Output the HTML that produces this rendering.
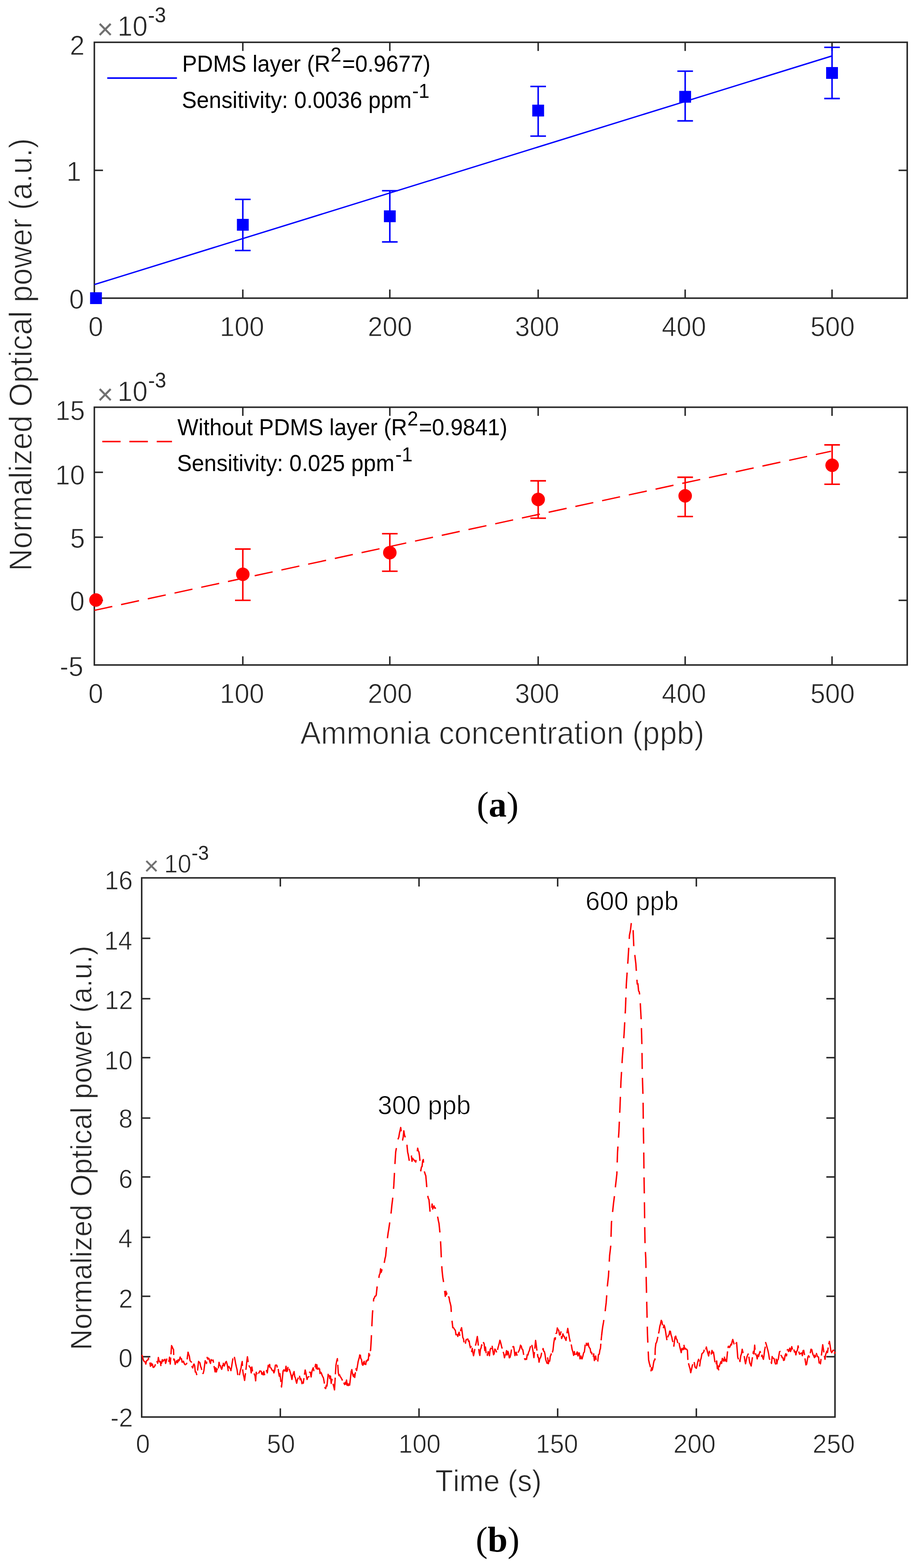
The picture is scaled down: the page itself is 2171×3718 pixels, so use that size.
<!DOCTYPE html>
<html><head><meta charset="utf-8"><title>Figure</title>
<style>
html,body{margin:0;padding:0;background:#fff;}
svg{display:block;}
text{font-family:"Liberation Sans",Arial,sans-serif;font-kerning:none;}
text.e1{stroke:#fff;stroke-width:1.0px;}
text.e2{stroke:#fff;stroke-width:1.4px;}
text.cap{font-family:"Liberation Serif","Times New Roman",serif;}
</style></head><body>
<svg width="2171" height="3718" viewBox="0 0 2171 3718">
<rect width="2171" height="3718" fill="#fff"/>
<rect x="223.6" y="100.3" width="1926.6" height="606.7" fill="none" stroke="#262626" stroke-width="3.6"/>
<line x1="575.5" y1="707.0" x2="575.5" y2="686.5" stroke="#262626" stroke-width="3.5"/>
<line x1="575.5" y1="100.3" x2="575.5" y2="120.8" stroke="#262626" stroke-width="3.5"/>
<line x1="923.9" y1="707.0" x2="923.9" y2="686.5" stroke="#262626" stroke-width="3.5"/>
<line x1="923.9" y1="100.3" x2="923.9" y2="120.8" stroke="#262626" stroke-width="3.5"/>
<line x1="1275.5" y1="707.0" x2="1275.5" y2="686.5" stroke="#262626" stroke-width="3.5"/>
<line x1="1275.5" y1="100.3" x2="1275.5" y2="120.8" stroke="#262626" stroke-width="3.5"/>
<line x1="1623.9" y1="707.0" x2="1623.9" y2="686.5" stroke="#262626" stroke-width="3.5"/>
<line x1="1623.9" y1="100.3" x2="1623.9" y2="120.8" stroke="#262626" stroke-width="3.5"/>
<line x1="1972.0" y1="707.0" x2="1972.0" y2="686.5" stroke="#262626" stroke-width="3.5"/>
<line x1="1972.0" y1="100.3" x2="1972.0" y2="120.8" stroke="#262626" stroke-width="3.5"/>
<line x1="223.6" y1="403.9" x2="244.1" y2="403.9" stroke="#262626" stroke-width="3.5"/>
<line x1="2150.2" y1="403.9" x2="2129.7" y2="403.9" stroke="#262626" stroke-width="3.5"/>
<text x="209.5" y="797.0" font-size="63" fill="#262626" class="e1" transform="translate(0,-31.88) scale(1,1.04)">0</text>
<text x="520.9" y="797.0" font-size="63" fill="#262626" class="e1" transform="translate(0,-31.88) scale(1,1.04)">100</text>
<text x="871.7" y="797.0" font-size="63" fill="#262626" class="e1" transform="translate(0,-31.88) scale(1,1.04)">200</text>
<text x="1220.5" y="797.0" font-size="63" fill="#262626" class="e1" transform="translate(0,-31.88) scale(1,1.04)">300</text>
<text x="1568.5" y="797.0" font-size="63" fill="#262626" class="e1" transform="translate(0,-31.88) scale(1,1.04)">400</text>
<text x="1920.7" y="797.0" font-size="63" fill="#262626" class="e1" transform="translate(0,-31.88) scale(1,1.04)">500</text>
<text x="164.1" y="732.0" font-size="63" fill="#262626" class="e1" transform="translate(0,-29.28) scale(1,1.04)">0</text>
<text x="157.5" y="429.5" font-size="63" fill="#262626" class="e1" transform="translate(0,-17.18) scale(1,1.04)">1</text>
<text x="165.4" y="130.0" font-size="63" fill="#262626" class="e1" transform="translate(0,-5.20) scale(1,1.04)">2</text>
<text x="229.9" y="92.0" font-size="66" fill="#707070">×</text>
<text x="278.6" y="85.5" font-size="64" fill="#262626" class="e1" transform="translate(0,-3.42) scale(1,1.04)">10</text>
<text x="350.7" y="53.5" font-size="48" fill="#262626" transform="translate(0,-2.14) scale(1,1.04)">-3</text>
<line x1="254.2" y1="185.1" x2="419.4" y2="185.1" stroke="#0000ff" stroke-width="3.6"/>
<text x="431.7" y="170.5" font-size="52.7" fill="#000" transform="translate(0,-6.82) scale(1,1.04)">PDMS layer (R</text>
<text x="783.5" y="146.0" font-size="46" fill="#000" transform="translate(0,-5.84) scale(1,1.04)">2</text>
<text x="810.9" y="170.5" font-size="52.7" fill="#000" transform="translate(0,-6.82) scale(1,1.04)">=0.9677)</text>
<text x="430.9" y="255.7" font-size="52.7" fill="#000" transform="translate(0,-10.23) scale(1,1.04)">Sensitivity: 0.0036 ppm</text>
<text x="977" y="231.6" font-size="46" fill="#000" transform="translate(0,-9.26) scale(1,1.04)">-1</text>
<line x1="223.6" y1="674.8" x2="1972.0" y2="132.6" stroke="#0000ff" stroke-width="3.2"/>
<rect x="213.5" y="693.0" width="28" height="28" fill="#0000ff"/>
<line x1="575.5" y1="472.7" x2="575.5" y2="594.0" stroke="#0000ff" stroke-width="3.6"/>
<line x1="557.0" y1="472.7" x2="594.0" y2="472.7" stroke="#0000ff" stroke-width="3.6"/>
<line x1="557.0" y1="594.0" x2="594.0" y2="594.0" stroke="#0000ff" stroke-width="3.6"/>
<rect x="561.5" y="519.0" width="28" height="28" fill="#0000ff"/>
<line x1="923.9" y1="452.3" x2="923.9" y2="573.6" stroke="#0000ff" stroke-width="3.6"/>
<line x1="905.4" y1="452.3" x2="942.4" y2="452.3" stroke="#0000ff" stroke-width="3.6"/>
<line x1="905.4" y1="573.6" x2="942.4" y2="573.6" stroke="#0000ff" stroke-width="3.6"/>
<rect x="909.9" y="498.8" width="28" height="28" fill="#0000ff"/>
<line x1="1275.5" y1="205.0" x2="1275.5" y2="322.7" stroke="#0000ff" stroke-width="3.6"/>
<line x1="1257.0" y1="205.0" x2="1294.0" y2="205.0" stroke="#0000ff" stroke-width="3.6"/>
<line x1="1257.0" y1="322.7" x2="1294.0" y2="322.7" stroke="#0000ff" stroke-width="3.6"/>
<rect x="1261.5" y="248.2" width="28" height="28" fill="#0000ff"/>
<line x1="1623.9" y1="168.7" x2="1623.9" y2="286.6" stroke="#0000ff" stroke-width="3.6"/>
<line x1="1605.4" y1="168.7" x2="1642.4" y2="168.7" stroke="#0000ff" stroke-width="3.6"/>
<line x1="1605.4" y1="286.6" x2="1642.4" y2="286.6" stroke="#0000ff" stroke-width="3.6"/>
<rect x="1609.9" y="215.5" width="28" height="28" fill="#0000ff"/>
<line x1="1972.0" y1="112.3" x2="1972.0" y2="233.6" stroke="#0000ff" stroke-width="3.6"/>
<line x1="1953.5" y1="112.3" x2="1990.5" y2="112.3" stroke="#0000ff" stroke-width="3.6"/>
<line x1="1953.5" y1="233.6" x2="1990.5" y2="233.6" stroke="#0000ff" stroke-width="3.6"/>
<rect x="1958.0" y="159.0" width="28" height="28" fill="#0000ff"/>
<rect x="223.6" y="965.6" width="1926.6" height="611.2" fill="none" stroke="#262626" stroke-width="3.6"/>
<line x1="575.5" y1="1576.8" x2="575.5" y2="1556.3" stroke="#262626" stroke-width="3.5"/>
<line x1="575.5" y1="965.6" x2="575.5" y2="986.1" stroke="#262626" stroke-width="3.5"/>
<line x1="923.9" y1="1576.8" x2="923.9" y2="1556.3" stroke="#262626" stroke-width="3.5"/>
<line x1="923.9" y1="965.6" x2="923.9" y2="986.1" stroke="#262626" stroke-width="3.5"/>
<line x1="1275.5" y1="1576.8" x2="1275.5" y2="1556.3" stroke="#262626" stroke-width="3.5"/>
<line x1="1275.5" y1="965.6" x2="1275.5" y2="986.1" stroke="#262626" stroke-width="3.5"/>
<line x1="1623.9" y1="1576.8" x2="1623.9" y2="1556.3" stroke="#262626" stroke-width="3.5"/>
<line x1="1623.9" y1="965.6" x2="1623.9" y2="986.1" stroke="#262626" stroke-width="3.5"/>
<line x1="1972.0" y1="1576.8" x2="1972.0" y2="1556.3" stroke="#262626" stroke-width="3.5"/>
<line x1="1972.0" y1="965.6" x2="1972.0" y2="986.1" stroke="#262626" stroke-width="3.5"/>
<line x1="223.6" y1="1119.9" x2="244.1" y2="1119.9" stroke="#262626" stroke-width="3.5"/>
<line x1="2150.2" y1="1119.9" x2="2129.7" y2="1119.9" stroke="#262626" stroke-width="3.5"/>
<line x1="223.6" y1="1273.8" x2="244.1" y2="1273.8" stroke="#262626" stroke-width="3.5"/>
<line x1="2150.2" y1="1273.8" x2="2129.7" y2="1273.8" stroke="#262626" stroke-width="3.5"/>
<line x1="223.6" y1="1423.5" x2="244.1" y2="1423.5" stroke="#262626" stroke-width="3.5"/>
<line x1="2150.2" y1="1423.5" x2="2129.7" y2="1423.5" stroke="#262626" stroke-width="3.5"/>
<text x="209.5" y="1667.0" font-size="63" fill="#262626" class="e1" transform="translate(0,-66.68) scale(1,1.04)">0</text>
<text x="520.9" y="1667.0" font-size="63" fill="#262626" class="e1" transform="translate(0,-66.68) scale(1,1.04)">100</text>
<text x="871.7" y="1667.0" font-size="63" fill="#262626" class="e1" transform="translate(0,-66.68) scale(1,1.04)">200</text>
<text x="1220.5" y="1667.0" font-size="63" fill="#262626" class="e1" transform="translate(0,-66.68) scale(1,1.04)">300</text>
<text x="1568.5" y="1667.0" font-size="63" fill="#262626" class="e1" transform="translate(0,-66.68) scale(1,1.04)">400</text>
<text x="1920.7" y="1667.0" font-size="63" fill="#262626" class="e1" transform="translate(0,-66.68) scale(1,1.04)">500</text>
<text x="131.2" y="996.2" font-size="63" fill="#262626" class="e1" transform="translate(0,-39.85) scale(1,1.04)">15</text>
<text x="131.0" y="1149.5" font-size="63" fill="#262626" class="e1" transform="translate(0,-45.98) scale(1,1.04)">10</text>
<text x="166.2" y="1299.5" font-size="63" fill="#262626" class="e1" transform="translate(0,-51.98) scale(1,1.04)">5</text>
<text x="165.4" y="1448.0" font-size="63" fill="#262626" class="e1" transform="translate(0,-57.92) scale(1,1.04)">0</text>
<text x="141.6" y="1602.8" font-size="63" fill="#262626" class="e1" transform="translate(0,-64.11) scale(1,1.04)">-5</text>
<text x="229.9" y="958.0" font-size="66" fill="#707070">×</text>
<text x="278.6" y="951.3" font-size="64" fill="#262626" class="e1" transform="translate(0,-38.05) scale(1,1.04)">10</text>
<text x="351.2" y="919.0" font-size="48" fill="#262626" transform="translate(0,-36.76) scale(1,1.04)">-3</text>
<line x1="242.4" y1="1047.0" x2="285.8" y2="1047.0" stroke="#ff0000" stroke-width="3.6"/>
<line x1="306.6" y1="1047.0" x2="350.5" y2="1047.0" stroke="#ff0000" stroke-width="3.6"/>
<line x1="371.5" y1="1047.0" x2="407.6" y2="1047.0" stroke="#ff0000" stroke-width="3.6"/>
<text x="420.5" y="1032.2" font-size="52.7" fill="#000" transform="translate(0,-41.29) scale(1,1.04)">Without PDMS layer (R</text>
<text x="965.5" y="1009.0" font-size="46" fill="#000" transform="translate(0,-40.36) scale(1,1.04)">2</text>
<text x="993.0" y="1032.2" font-size="52.7" fill="#000" transform="translate(0,-41.29) scale(1,1.04)">=0.9841)</text>
<text x="419.4" y="1117.5" font-size="52.7" fill="#000" transform="translate(0,-44.70) scale(1,1.04)">Sensitivity: 0.025 ppm</text>
<text x="937" y="1093.6" font-size="46" fill="#000" transform="translate(0,-43.74) scale(1,1.04)">-1</text>
<line x1="223.6" y1="1447.3" x2="1969.6" y2="1070" stroke="#ff0000" stroke-width="3.2" stroke-dasharray="43.5 21.3"/>
<circle cx="227.5" cy="1422.8" r="16" fill="#ff0000"/>
<line x1="575.5" y1="1301.9" x2="575.5" y2="1423.5" stroke="#ff0000" stroke-width="3.6"/>
<line x1="557.0" y1="1301.9" x2="594.0" y2="1301.9" stroke="#ff0000" stroke-width="3.6"/>
<line x1="557.0" y1="1423.5" x2="594.0" y2="1423.5" stroke="#ff0000" stroke-width="3.6"/>
<circle cx="575.5" cy="1361.7" r="16" fill="#ff0000"/>
<line x1="923.9" y1="1265.5" x2="923.9" y2="1354.5" stroke="#ff0000" stroke-width="3.6"/>
<line x1="905.4" y1="1265.5" x2="942.4" y2="1265.5" stroke="#ff0000" stroke-width="3.6"/>
<line x1="905.4" y1="1354.5" x2="942.4" y2="1354.5" stroke="#ff0000" stroke-width="3.6"/>
<circle cx="923.9" cy="1310.4" r="16" fill="#ff0000"/>
<line x1="1275.5" y1="1140.1" x2="1275.5" y2="1228.8" stroke="#ff0000" stroke-width="3.6"/>
<line x1="1257.0" y1="1140.1" x2="1294.0" y2="1140.1" stroke="#ff0000" stroke-width="3.6"/>
<line x1="1257.0" y1="1228.8" x2="1294.0" y2="1228.8" stroke="#ff0000" stroke-width="3.6"/>
<circle cx="1275.5" cy="1184.3" r="16" fill="#ff0000"/>
<line x1="1623.9" y1="1131.6" x2="1623.9" y2="1224.7" stroke="#ff0000" stroke-width="3.6"/>
<line x1="1605.4" y1="1131.6" x2="1642.4" y2="1131.6" stroke="#ff0000" stroke-width="3.6"/>
<line x1="1605.4" y1="1224.7" x2="1642.4" y2="1224.7" stroke="#ff0000" stroke-width="3.6"/>
<circle cx="1623.9" cy="1175.8" r="16" fill="#ff0000"/>
<line x1="1972.2" y1="1054.9" x2="1972.2" y2="1148.3" stroke="#ff0000" stroke-width="3.6"/>
<line x1="1953.7" y1="1054.9" x2="1990.7" y2="1054.9" stroke="#ff0000" stroke-width="3.6"/>
<line x1="1953.7" y1="1148.3" x2="1990.7" y2="1148.3" stroke="#ff0000" stroke-width="3.6"/>
<circle cx="1972.2" cy="1103.2" r="16" fill="#ff0000"/>
<text x="711.7" y="1764.2" font-size="73" fill="#262626" class="e2" transform="translate(0,-70.57) scale(1,1.04)">Ammonia concentration (ppb)</text>
<text transform="translate(75,1354.0) rotate(-90) scale(1,1.04)" font-size="73" fill="#262626" class="e2">Normalized Optical power (a.u.)</text>
<text x="1179.6" y="1936.3" text-anchor="middle" class="cap" font-size="85" fill="#000">(<tspan font-weight="bold">a</tspan>)</text>
<rect x="335.8" y="2081.6" width="1643.2" height="1278.4" fill="none" stroke="#262626" stroke-width="3.6"/>
<line x1="664.4" y1="3360.0" x2="664.4" y2="3339.5" stroke="#262626" stroke-width="3.5"/>
<line x1="664.4" y1="2081.6" x2="664.4" y2="2102.1" stroke="#262626" stroke-width="3.5"/>
<line x1="993.1" y1="3360.0" x2="993.1" y2="3339.5" stroke="#262626" stroke-width="3.5"/>
<line x1="993.1" y1="2081.6" x2="993.1" y2="2102.1" stroke="#262626" stroke-width="3.5"/>
<line x1="1321.7" y1="3360.0" x2="1321.7" y2="3339.5" stroke="#262626" stroke-width="3.5"/>
<line x1="1321.7" y1="2081.6" x2="1321.7" y2="2102.1" stroke="#262626" stroke-width="3.5"/>
<line x1="1650.4" y1="3360.0" x2="1650.4" y2="3339.5" stroke="#262626" stroke-width="3.5"/>
<line x1="1650.4" y1="2081.6" x2="1650.4" y2="2102.1" stroke="#262626" stroke-width="3.5"/>
<line x1="335.8" y1="2224.9" x2="356.3" y2="2224.9" stroke="#262626" stroke-width="3.5"/>
<line x1="1979.0" y1="2224.9" x2="1958.5" y2="2224.9" stroke="#262626" stroke-width="3.5"/>
<line x1="335.8" y1="2368.1" x2="356.3" y2="2368.1" stroke="#262626" stroke-width="3.5"/>
<line x1="1979.0" y1="2368.1" x2="1958.5" y2="2368.1" stroke="#262626" stroke-width="3.5"/>
<line x1="335.8" y1="2507.9" x2="356.3" y2="2507.9" stroke="#262626" stroke-width="3.5"/>
<line x1="1979.0" y1="2507.9" x2="1958.5" y2="2507.9" stroke="#262626" stroke-width="3.5"/>
<line x1="335.8" y1="2651.1" x2="356.3" y2="2651.1" stroke="#262626" stroke-width="3.5"/>
<line x1="1979.0" y1="2651.1" x2="1958.5" y2="2651.1" stroke="#262626" stroke-width="3.5"/>
<line x1="335.8" y1="2790.8" x2="356.3" y2="2790.8" stroke="#262626" stroke-width="3.5"/>
<line x1="1979.0" y1="2790.8" x2="1958.5" y2="2790.8" stroke="#262626" stroke-width="3.5"/>
<line x1="335.8" y1="2933.9" x2="356.3" y2="2933.9" stroke="#262626" stroke-width="3.5"/>
<line x1="1979.0" y1="2933.9" x2="1958.5" y2="2933.9" stroke="#262626" stroke-width="3.5"/>
<line x1="335.8" y1="3073.7" x2="356.3" y2="3073.7" stroke="#262626" stroke-width="3.5"/>
<line x1="1979.0" y1="3073.7" x2="1958.5" y2="3073.7" stroke="#262626" stroke-width="3.5"/>
<line x1="335.8" y1="3217.0" x2="356.3" y2="3217.0" stroke="#262626" stroke-width="3.5"/>
<line x1="1979.0" y1="3217.0" x2="1958.5" y2="3217.0" stroke="#262626" stroke-width="3.5"/>
<text x="322.1" y="3445.0" font-size="60" fill="#262626" class="e1" transform="translate(0,-137.80) scale(1,1.04)">0</text>
<text x="632.6" y="3445.0" font-size="60" fill="#262626" class="e1" transform="translate(0,-137.80) scale(1,1.04)">50</text>
<text x="944.4" y="3445.0" font-size="60" fill="#262626" class="e1" transform="translate(0,-137.80) scale(1,1.04)">100</text>
<text x="1270.1" y="3445.0" font-size="60" fill="#262626" class="e1" transform="translate(0,-137.80) scale(1,1.04)">150</text>
<text x="1596.1" y="3445.0" font-size="60" fill="#262626" class="e1" transform="translate(0,-137.80) scale(1,1.04)">200</text>
<text x="1926.1" y="3445.0" font-size="60" fill="#262626" class="e1" transform="translate(0,-137.80) scale(1,1.04)">250</text>
<text x="247.9" y="2109.5" font-size="60" fill="#262626" class="e1" transform="translate(0,-84.38) scale(1,1.04)">16</text>
<text x="247.0" y="2252.2" font-size="60" fill="#262626" class="e1" transform="translate(0,-90.09) scale(1,1.04)">14</text>
<text x="248.3" y="2392.8" font-size="60" fill="#262626" class="e1" transform="translate(0,-95.71) scale(1,1.04)">12</text>
<text x="247.6" y="2536.4" font-size="60" fill="#262626" class="e1" transform="translate(0,-101.46) scale(1,1.04)">10</text>
<text x="281.2" y="2674.5" font-size="60" fill="#262626" class="e1" transform="translate(0,-106.98) scale(1,1.04)">8</text>
<text x="281.3" y="2817.4" font-size="60" fill="#262626" class="e1" transform="translate(0,-112.70) scale(1,1.04)">6</text>
<text x="280.4" y="2958.2" font-size="60" fill="#262626" class="e1" transform="translate(0,-118.33) scale(1,1.04)">4</text>
<text x="281.6" y="3101.1" font-size="60" fill="#262626" class="e1" transform="translate(0,-124.04) scale(1,1.04)">2</text>
<text x="281.0" y="3242.0" font-size="60" fill="#262626" class="e1" transform="translate(0,-129.68) scale(1,1.04)">0</text>
<text x="261.7" y="3383.5" font-size="60" fill="#262626" class="e1" transform="translate(0,-135.34) scale(1,1.04)">-2</text>
<text x="341.0" y="2073.5" font-size="61" fill="#707070">×</text>
<text x="389.1" y="2069.0" font-size="58" fill="#262626" class="e1" transform="translate(0,-82.76) scale(1,1.04)">10</text>
<text x="454.1" y="2038.6" font-size="46" fill="#262626" transform="translate(0,-81.54) scale(1,1.04)">-3</text>
<polyline points="336.3,3212.5 337.9,3218.0 339.4,3223.5 340.9,3227.5 342.5,3228.2 344.1,3229.9 345.6,3234.4 347.2,3226.6 348.7,3225.8 350.3,3225.0 351.9,3220.5 353.4,3228.5 355.0,3229.7 356.6,3239.7 358.1,3232.2 359.7,3237.6 361.3,3234.4 362.9,3242.3 364.4,3242.2 366.0,3240.7 367.6,3237.5 369.1,3228.9 370.7,3229.7 372.2,3228.7 373.8,3232.6 375.3,3218.8 376.9,3226.6 378.5,3229.4 380.0,3228.1 381.6,3240.7 383.2,3230.7 384.7,3224.1 386.3,3228.2 387.9,3225.2 389.4,3225.0 390.9,3223.1 392.5,3232.9 394.1,3227.6 395.7,3220.4 397.3,3223.9 398.8,3224.6 400.4,3228.2 401.9,3218.2 403.5,3234.4 405.1,3212.3 406.6,3190.7 408.2,3193.5 409.7,3197.5 411.3,3200.0 412.1,3225.0 413.6,3224.2 415.2,3235.2 417.0,3230.9 418.9,3226.4 420.7,3231.3 422.3,3224.2 423.8,3232.0 425.4,3223.5 427.0,3217.8 428.5,3222.2 430.1,3221.9 431.6,3229.9 433.2,3229.7 434.8,3227.7 436.3,3232.2 437.8,3235.1 439.4,3236.0 441.0,3234.8 442.6,3232.9 444.1,3218.2 445.7,3206.3 447.2,3211.3 448.8,3215.7 450.4,3226.5 452.0,3228.2 453.6,3229.5 455.1,3240.7 456.7,3243.6 458.2,3237.2 459.8,3234.4 461.4,3238.6 462.9,3253.4 464.5,3253.2 466.1,3259.4 467.6,3256.3 469.1,3241.0 470.7,3228.2 472.2,3230.2 473.8,3231.3 475.4,3239.5 477.0,3243.8 478.6,3249.4 480.1,3256.3 481.6,3256.7 483.2,3250.0 484.8,3238.2 486.3,3226.6 487.9,3229.5 489.5,3233.1 491.0,3218.7 492.6,3222.9 494.2,3220.4 495.8,3222.5 497.3,3229.3 498.9,3232.9 500.4,3223.9 502.0,3225.5 503.6,3225.8 505.1,3225.0 506.6,3236.2 508.2,3243.8 509.8,3252.9 511.3,3243.2 512.9,3253.2 514.5,3245.9 516.0,3250.3 517.6,3243.8 519.2,3230.3 520.7,3237.6 522.3,3238.3 523.8,3243.3 525.4,3246.9 527.0,3241.2 528.6,3229.7 530.2,3237.2 531.7,3239.1 533.3,3233.9 534.8,3230.0 536.4,3228.2 538.0,3233.6 539.5,3240.7 541.1,3251.4 542.6,3240.1 544.2,3243.8 545.8,3245.3 547.3,3250.0 548.9,3241.3 550.4,3231.0 552.0,3221.9 553.6,3221.2 555.1,3215.8 556.7,3223.5 558.4,3232.8 560.1,3240.6 561.8,3247.3 563.4,3259.5 565.1,3264.2 566.8,3262.7 568.5,3255.3 569.9,3248.5 571.3,3243.6 572.7,3234.1 574.1,3228.3 575.2,3248.5 576.7,3259.1 578.2,3265.0 579.7,3273.2 581.9,3255.3 583.4,3243.3 584.9,3228.3 586.4,3217.1 588.7,3232.8 590.4,3238.8 592.0,3241.8 593.7,3243.0 595.4,3255.3 596.9,3241.3 598.4,3250.4 599.9,3250.8 601.4,3250.3 602.9,3259.0 604.4,3262.0 605.9,3274.2 607.3,3253.9 608.8,3257.5 610.5,3252.0 612.2,3255.4 613.9,3255.5 615.6,3250.8 617.3,3250.8 619.0,3251.7 620.6,3258.6 622.3,3255.3 623.8,3260.0 625.3,3251.9 626.8,3259.7 628.5,3258.1 630.1,3257.7 631.8,3249.7 633.5,3255.3 635.8,3237.3 637.5,3240.6 639.1,3235.4 640.8,3248.3 642.5,3244.0 644.2,3247.9 645.9,3250.1 647.5,3249.2 649.2,3255.3 650.9,3250.3 652.6,3237.3 654.3,3236.7 656.0,3237.3 657.5,3244.5 659.0,3242.4 660.5,3255.3 662.0,3263.3 663.4,3257.0 664.9,3268.7 667.2,3288.9 668.7,3274.6 670.2,3258.2 671.7,3244.0 673.2,3250.7 674.7,3249.3 676.2,3250.8 677.9,3239.5 679.5,3252.1 681.2,3250.4 682.9,3239.6 684.6,3244.4 686.2,3248.5 687.9,3254.0 689.6,3259.7 691.9,3271.0 693.4,3261.0 694.9,3258.8 696.4,3248.5 698.6,3264.2 700.1,3267.4 701.6,3274.5 703.1,3279.9 704.8,3271.9 706.5,3268.1 708.1,3260.7 709.8,3262.0 711.3,3271.6 712.8,3268.7 714.3,3273.2 715.8,3280.9 717.3,3277.7 718.8,3279.9 720.3,3268.3 721.8,3258.4 723.3,3248.5 724.8,3254.6 726.3,3263.5 727.8,3271.0 729.3,3266.6 730.7,3264.8 732.2,3264.2 733.9,3253.7 735.6,3254.1 737.3,3265.0 739.0,3253.0 740.7,3247.2 742.4,3243.2 744.0,3250.0 745.7,3246.3 748.0,3235.1 749.5,3245.3 750.9,3235.8 752.4,3246.3 753.9,3246.5 755.4,3245.4 756.9,3240.0 758.4,3256.8 759.9,3253.7 761.4,3255.3 763.1,3260.1 764.8,3264.2 766.5,3267.0 768.1,3275.5 770.4,3291.2 771.9,3292.5 773.4,3284.9 774.9,3286.7 776.5,3270.9 778.2,3255.3 779.9,3258.3 781.6,3268.7 783.3,3263.0 785.0,3280.3 786.6,3270.7 788.3,3275.5 789.8,3283.0 791.3,3288.8 792.8,3295.6 794.5,3266.3 796.2,3237.3 797.9,3228.0 799.6,3221.6 801.8,3255.3 803.3,3261.6 804.8,3259.7 806.3,3264.2 807.8,3265.6 809.3,3268.9 810.8,3271.0 812.3,3280.1 813.8,3280.5 815.3,3279.9 816.8,3283.1 818.3,3277.8 819.8,3282.2 821.3,3272.3 822.7,3285.0 824.2,3277.7 825.7,3285.5 827.2,3281.4 828.7,3284.4 830.2,3271.5 831.7,3258.3 833.2,3244.0 834.7,3253.1 836.2,3260.1 837.7,3264.2 839.2,3258.9 840.7,3266.2 842.2,3255.3 843.7,3245.6 845.2,3249.9 846.7,3241.8 848.9,3228.3 850.4,3223.0 851.9,3217.3 853.4,3208.1 855.1,3221.2 856.8,3223.8 858.5,3235.3 860.1,3237.3 861.6,3230.7 863.1,3228.0 864.6,3239.6 866.3,3239.6 868.0,3226.8 869.6,3227.7 871.3,3223.8 872.8,3225.2 874.3,3209.3 875.8,3214.9 877.0,3203.3" fill="none" stroke="#ff0000" stroke-width="3.2" stroke-linejoin="round" stroke-dasharray="44 8"/>
<polyline points="877.0,3203.3 878.3,3201.8 879.8,3178.0 881.3,3145.2 882.7,3115.5 884.2,3097.8 885.7,3079.8 887.2,3077.8 888.7,3073.9 890.2,3073.3 891.7,3070.8 893.2,3056.5 894.6,3044.0 896.1,3033.1 897.6,3031.6 899.1,3023.0 900.6,3020.2 902.1,3008.7 903.6,3016.9 905.0,3011.0 906.5,3010.4 908.0,3000.2 909.5,3002.4 911.0,2992.9 912.5,2984.2 914.0,2978.6 915.5,2962.9 917.0,2949.0 918.5,2934.0 920.0,2922.8 921.4,2914.7 922.9,2904.2 924.4,2893.8 925.9,2885.4 927.4,2871.4 928.9,2856.5 930.4,2844.6 931.8,2828.9 933.3,2811.9 934.8,2783.6 936.3,2755.4 937.8,2731.5 939.3,2723.3 940.8,2715.2 942.3,2704.3 943.8,2700.0 945.2,2696.4 946.7,2687.2 948.2,2680.7 949.7,2673.5 951.2,2684.2 952.7,2695.8 954.2,2703.3 955.7,2695.7 957.1,2681.5 958.6,2691.3 960.1,2695.8 961.6,2703.1 963.1,2716.7 964.6,2715.7 966.1,2731.5 967.5,2737.6 969.0,2746.4 970.5,2755.1 972.0,2746.7 973.5,2738.8 975.0,2740.3 976.5,2753.7 978.0,2746.4 979.5,2749.1 981.0,2750.3 982.4,2751.5 983.9,2753.8 985.4,2755.4 986.9,2745.7 988.4,2734.4 989.9,2722.6 991.4,2729.3 992.8,2731.2 994.3,2740.5 995.8,2758.7 997.3,2776.2 998.8,2767.5 1000.3,2766.0 1001.8,2752.4 1003.3,2749.4 1004.8,2776.2 1006.3,2779.6 1007.7,2784.1 1009.2,2788.1 1010.7,2805.1 1012.2,2823.8 1013.7,2835.5 1015.2,2841.7 1016.7,2844.6 1018.2,2860.7 1019.6,2877.4 1021.1,2878.4 1022.6,2873.4 1024.1,2854.8 1025.6,2866.8 1027.1,2862.2 1028.6,2859.5 1030.1,2864.3 1031.6,2864.0 1033.0,2871.8 1034.5,2876.6 1036.0,2886.8 1037.5,2886.3 1039.0,2894.6 1040.5,2901.2 1042.0,2916.1 1043.5,2931.0 1044.9,2957.7 1046.4,2993.5 1047.9,3014.3 1049.4,3028.2 1050.9,3037.4 1052.4,3050.0 1053.9,3061.4 1055.4,3073.8 1056.9,3062.0 1058.3,3069.8 1059.8,3058.9 1061.3,3068.0 1062.8,3073.8 1064.3,3076.8 1065.8,3085.6 1067.3,3091.0 1068.8,3097.6 1070.2,3121.4 1071.7,3135.0 1073.2,3148.2 1074.7,3148.2 1076.2,3150.0" fill="none" stroke="#ff0000" stroke-width="3.3" stroke-linejoin="round" stroke-dasharray="38 21"/>
<polyline points="1076.2,3150.0 1077.7,3153.0 1079.2,3154.2 1080.7,3165.0 1082.2,3164.2 1083.6,3165.0 1085.1,3169.0 1086.6,3162.7 1088.1,3159.0 1089.5,3166.4 1091.0,3157.6 1092.5,3152.0 1094.0,3148.2 1095.5,3159.6 1097.0,3172.0 1098.5,3174.4 1100.0,3184.0 1101.5,3182.1 1103.0,3186.3 1104.5,3177.1 1105.9,3176.6 1107.4,3175.1 1108.9,3175.0 1110.4,3180.6 1111.9,3179.5 1113.4,3189.7 1114.9,3195.8 1116.4,3192.8 1117.9,3204.9 1119.3,3197.2 1120.8,3207.1 1122.3,3214.6 1123.8,3207.7 1125.3,3199.2 1126.8,3190.8 1128.3,3184.9 1129.8,3176.7 1131.3,3169.0 1132.8,3180.8 1134.2,3195.3 1135.7,3207.7 1137.2,3214.0 1138.7,3199.5 1140.2,3196.3 1141.6,3188.8 1143.1,3191.9 1144.6,3186.9 1146.1,3183.4 1147.6,3187.1 1149.1,3202.5 1150.6,3194.1 1152.1,3207.5 1153.6,3204.8 1155.2,3213.9 1156.9,3205.1 1158.5,3206.3 1160.1,3214.6 1161.7,3200.1 1163.4,3196.9 1165.0,3200.0 1166.5,3192.4 1168.1,3202.2 1169.7,3212.3 1171.2,3209.9 1172.8,3198.8 1174.3,3200.3 1175.9,3203.5 1177.4,3207.7 1178.9,3202.7 1180.4,3195.2 1181.8,3190.6 1183.3,3184.9 1184.8,3178.0 1186.3,3182.3 1187.8,3188.6 1189.3,3194.8 1190.8,3199.1 1192.3,3204.8 1193.9,3209.5 1195.6,3219.5 1197.2,3213.4 1198.9,3211.7 1200.5,3202.7 1202.2,3217.0 1203.8,3204.4 1205.5,3209.3 1207.1,3219.6 1208.6,3218.7 1210.1,3213.6 1211.5,3205.6 1213.0,3194.7 1214.5,3195.8 1216.0,3192.9 1217.5,3193.1 1219.0,3202.9 1220.5,3214.3 1222.0,3207.8 1223.5,3206.4 1225.0,3213.7 1226.7,3204.2 1228.3,3206.2 1230.0,3202.9 1231.8,3198.4 1233.6,3189.7 1235.4,3192.0 1237.2,3198.8 1239.1,3200.4 1240.9,3211.0 1242.7,3220.4 1244.5,3223.8 1246.3,3222.0 1247.9,3223.4 1249.6,3212.1 1251.2,3213.0 1252.9,3206.1 1254.5,3202.9 1256.3,3195.9 1258.1,3190.6 1259.9,3186.6 1261.7,3194.8 1263.6,3205.4 1265.4,3219.2 1267.4,3199.5 1269.4,3178.4 1270.8,3188.1 1272.1,3198.7 1273.5,3208.3 1274.9,3217.9 1276.2,3218.7 1277.6,3230.0 1279.2,3221.6 1280.8,3219.8 1282.3,3215.2 1283.9,3206.9 1285.5,3206.8 1287.1,3197.5 1288.7,3204.1 1290.3,3205.0 1291.8,3211.9 1293.4,3223.8 1295.0,3228.5 1296.6,3232.8 1298.1,3219.8 1299.7,3233.7 1301.2,3226.7 1302.8,3227.5 1304.3,3215.5 1305.8,3212.9 1307.4,3205.5 1308.9,3208.3 1310.7,3201.0 1312.5,3184.5 1314.3,3173.0 1315.9,3176.4 1317.6,3161.8 1319.2,3161.5 1320.9,3148.8 1322.5,3152.6 1324.3,3154.8 1326.1,3165.6 1327.9,3164.8 1329.5,3158.1 1331.0,3173.9 1332.6,3170.4 1334.1,3162.9 1335.7,3167.5 1337.2,3168.9 1338.8,3173.0 1340.2,3175.4 1341.5,3178.4 1342.9,3168.0 1344.2,3158.1 1345.6,3149.9 1347.6,3160.8 1349.6,3173.0 1351.0,3179.0 1352.4,3189.3 1354.2,3189.4 1356.0,3200.0 1357.8,3205.6 1359.6,3213.8 1361.4,3204.9 1363.2,3216.5 1364.8,3214.9 1366.5,3209.2 1368.1,3205.6 1369.8,3215.2 1371.4,3208.3 1373.0,3208.2 1374.7,3222.1 1376.3,3212.2 1378.0,3221.4 1379.6,3222.0 1381.4,3215.6 1383.2,3208.0 1385.0,3205.6 1386.3,3194.7 1387.7,3182.5 1389.3,3183.7 1390.8,3190.3 1392.4,3188.7 1393.9,3184.8 1395.5,3192.6 1397.0,3195.7 1398.6,3197.5 1400.4,3207.3 1402.2,3206.8 1404.0,3216.5 1405.6,3218.2 1407.1,3210.1 1408.7,3226.1 1410.2,3217.8 1411.8,3215.4 1413.3,3227.7 1414.9,3230.0 1416.7,3227.7 1418.5,3211.7 1420.3,3211.0 1421.7,3201.4 1423.1,3197.5 1424.4,3181.9 1425.8,3167.5" fill="none" stroke="#ff0000" stroke-width="3.2" stroke-linejoin="round" stroke-dasharray="44 8"/>
<polyline points="1425.8,3167.5 1427.2,3155.2 1428.5,3145.8 1430.3,3135.7 1432.1,3122.5 1433.9,3113.2 1435.3,3100.1 1436.7,3088.7 1438.1,3069.9 1439.4,3050.6 1440.8,3037.6 1442.1,3026.1 1443.5,3001.7 1444.8,2977.2 1446.2,2966.1 1447.5,2954.0 1449.2,2899.4 1450.8,2883.9 1452.4,2869.2 1454.0,2854.0 1455.6,2841.5 1457.2,2829.0 1458.8,2812.2 1460.4,2798.3 1462.0,2783.6 1463.6,2732.2 1465.2,2708.1 1466.8,2684.0 1468.1,2655.0 1469.4,2626.0 1471.7,2565.0 1473.3,2537.5 1474.9,2510.0 1476.3,2491.7 1477.7,2471.0 1479.1,2452.3 1480.7,2422.9 1482.3,2394.4 1484.5,2333.3 1485.9,2312.5 1487.3,2292.0 1488.7,2272.2 1490.3,2245.1 1491.9,2217.5 1494.2,2206.3 1496.4,2187.0 1497.8,2195.7 1499.2,2197.2 1500.6,2206.3 1502.2,2246.5 1503.8,2257.5 1505.4,2271.7 1507.0,2285.0 1508.7,2309.8 1510.3,2333.3 1511.9,2332.5 1513.5,2349.3 1515.1,2352.0 1516.7,2362.3 1518.3,2393.1 1519.9,2423.4 1521.5,2484.5 1522.2,2542.4 1524.1,2603.5 1524.7,2664.6 1525.7,2725.8 1526.3,2783.6 1527.3,2844.8 1528.0,2905.9 1528.9,2954.0 1530.5,2982.6 1531.8,3042.5 1533.2,3105.0 1534.6,3164.8 1535.9,3194.5 1537.3,3224.6 1539.1,3232.9 1540.9,3238.9 1542.7,3251.8" fill="none" stroke="#ff0000" stroke-width="3.3" stroke-linejoin="round" stroke-dasharray="38 21"/>
<polyline points="1542.7,3251.8 1544.3,3243.1 1545.9,3248.7 1547.5,3241.7 1549.0,3231.9 1550.6,3225.4 1552.2,3224.6 1553.0,3197.5 1554.5,3185.4 1556.0,3183.3 1557.4,3177.8 1558.9,3171.1 1560.4,3164.8 1562.1,3156.1 1563.8,3145.0 1565.5,3139.1 1567.2,3130.8 1568.8,3133.6 1570.4,3143.7 1572.1,3149.8 1573.7,3142.1 1575.3,3145.8 1577.1,3155.1 1579.0,3167.4 1580.8,3178.4 1582.4,3171.3 1584.0,3166.4 1585.7,3165.1 1587.3,3156.4 1588.9,3156.7 1590.5,3165.6 1592.2,3170.5 1593.8,3178.6 1595.5,3184.4 1597.1,3192.0 1598.5,3180.0 1600.0,3170.1 1601.5,3168.2 1603.0,3174.9 1604.5,3176.3 1606.1,3183.4 1607.6,3185.2 1609.1,3181.2 1610.6,3191.3 1612.6,3199.5 1614.6,3207.3 1616.1,3197.5 1617.7,3200.0 1619.2,3200.2 1620.8,3187.7 1622.4,3198.9 1623.9,3196.6 1625.7,3199.3 1627.4,3199.2 1629.2,3202.0 1630.5,3228.5 1632.2,3233.8 1633.8,3240.5 1635.4,3245.2 1637.1,3255.0 1638.9,3247.1 1640.6,3239.1 1642.4,3233.8 1644.0,3236.5 1645.6,3231.0 1647.2,3241.5 1648.8,3243.1 1650.4,3244.4 1652.2,3236.9 1653.9,3228.8 1655.7,3223.2 1657.0,3232.2 1658.3,3239.0 1660.1,3225.5 1661.8,3220.6 1663.6,3209.9 1665.1,3209.0 1666.6,3207.0 1668.1,3205.3 1669.7,3197.1 1671.2,3197.1 1672.7,3199.9 1674.2,3194.0 1676.0,3202.5 1677.7,3208.8 1679.5,3215.2 1681.1,3204.1 1682.7,3212.9 1684.3,3213.8 1685.9,3210.2 1687.5,3202.0 1689.3,3208.3 1691.0,3206.1 1692.8,3217.9 1694.1,3227.7 1695.4,3233.8 1697.0,3236.2 1698.6,3227.0 1700.2,3245.3 1701.8,3238.7 1703.4,3249.7 1705.2,3238.4 1706.9,3233.5 1708.7,3228.5 1710.3,3232.9 1711.9,3221.1 1713.4,3222.0 1715.0,3227.5 1716.6,3215.2 1718.4,3227.1 1720.2,3223.6 1722.0,3228.5 1723.3,3215.0 1724.6,3202.0 1726.1,3192.4 1727.6,3192.3 1729.1,3195.1 1730.7,3191.9 1732.2,3187.4 1733.7,3188.9 1735.2,3180.7 1736.7,3176.1 1738.2,3181.1 1739.7,3186.6 1741.3,3186.0 1742.8,3189.6 1744.3,3185.6 1745.8,3183.4 1747.2,3200.5 1748.5,3217.9 1750.3,3223.3 1752.0,3219.8 1753.8,3228.5 1755.6,3215.1 1757.3,3210.3 1759.1,3199.3 1760.7,3206.0 1762.3,3214.0 1763.8,3215.0 1765.4,3225.8 1767.0,3233.8 1768.8,3224.8 1770.5,3216.9 1772.3,3212.6 1773.9,3209.2 1775.5,3221.9 1777.1,3231.9 1778.7,3235.2 1780.3,3239.0 1782.1,3226.5 1783.8,3216.0 1785.6,3204.6 1787.1,3210.5 1788.6,3189.6 1790.1,3207.2 1791.7,3212.6 1793.2,3214.6 1794.7,3222.1 1796.2,3212.6 1798.0,3216.4 1799.7,3209.0 1801.5,3204.6 1803.1,3209.8 1804.7,3215.8 1806.2,3213.2 1807.8,3219.3 1809.4,3223.2 1810.8,3213.8 1812.1,3202.0 1813.4,3195.7 1814.7,3183.4 1816.5,3189.0 1818.2,3195.6 1820.0,3202.0 1821.8,3210.5 1823.5,3221.7 1825.3,3225.8 1826.9,3224.5 1828.5,3233.0 1830.1,3216.5 1831.7,3220.4 1833.3,3220.5 1834.9,3222.1 1836.5,3230.2 1838.1,3234.3 1839.7,3222.8 1841.3,3233.8 1842.9,3224.8 1844.5,3223.3 1846.0,3214.0 1847.6,3205.1 1849.2,3204.6 1850.8,3213.5 1852.4,3215.3 1854.0,3219.5 1855.6,3219.4 1857.2,3225.8 1859.0,3224.8 1860.7,3214.2 1862.5,3209.9 1864.1,3215.0 1865.7,3201.2 1867.2,3199.9 1868.8,3204.8 1870.4,3202.0 1871.9,3196.7 1873.4,3204.8 1874.9,3201.3 1876.5,3193.0 1878.0,3198.6 1879.5,3195.1 1881.0,3196.6 1882.8,3205.7 1884.5,3204.6 1886.3,3212.6 1888.1,3204.1 1889.8,3202.3 1891.6,3191.3 1893.4,3205.7 1895.1,3211.0 1896.9,3209.9 1898.5,3208.7 1900.1,3208.1 1901.7,3214.6 1903.3,3202.8 1904.9,3202.0 1906.7,3211.7 1908.4,3225.1 1910.2,3236.4 1911.8,3234.9 1913.4,3225.0 1914.9,3217.3 1916.5,3214.6 1918.1,3217.9 1920.1,3210.4 1922.1,3199.3 1923.8,3199.7 1925.4,3206.6 1927.0,3212.2 1928.7,3215.2 1930.3,3219.2 1931.9,3213.0 1933.5,3218.4 1935.1,3209.4 1936.7,3215.2 1938.3,3217.2 1939.9,3217.7 1941.4,3231.8 1943.0,3229.9 1944.6,3233.8 1946.4,3217.9 1948.1,3203.3 1949.9,3188.7 1951.7,3199.8 1953.5,3213.0 1955.3,3223.2 1956.8,3212.0 1958.3,3207.7 1959.8,3203.8 1961.3,3207.0 1962.8,3195.9 1964.3,3186.4 1965.8,3180.7 1967.6,3191.4 1969.4,3203.7 1971.2,3207.3 1973.0,3204.1 1974.7,3201.5 1976.5,3202.0 1977.8,3210.7 1979.0,3205.0" fill="none" stroke="#ff0000" stroke-width="3.2" stroke-linejoin="round" stroke-dasharray="44 8"/>
<text x="895.3" y="2642.3" font-size="61" fill="#000" class="e1" transform="translate(0,-105.69) scale(1,1.04)">300 ppb</text>
<text x="1387.7" y="2157.9" font-size="61" fill="#000" class="e1" transform="translate(0,-86.32) scale(1,1.04)">600 ppb</text>
<text x="1031.8" y="3535.6" font-size="68.7" fill="#262626" class="e1" transform="translate(0,-141.42) scale(1,1.04)">Time (s)</text>
<text transform="translate(217,3201.2) rotate(-90) scale(1,1.04)" font-size="68.2" fill="#262626" class="e1">Normalized Optical power (a.u.)</text>
<text x="1179.4" y="3679.0" text-anchor="middle" class="cap" font-size="85" fill="#000">(<tspan font-weight="bold">b</tspan>)</text>
</svg>
</body></html>
